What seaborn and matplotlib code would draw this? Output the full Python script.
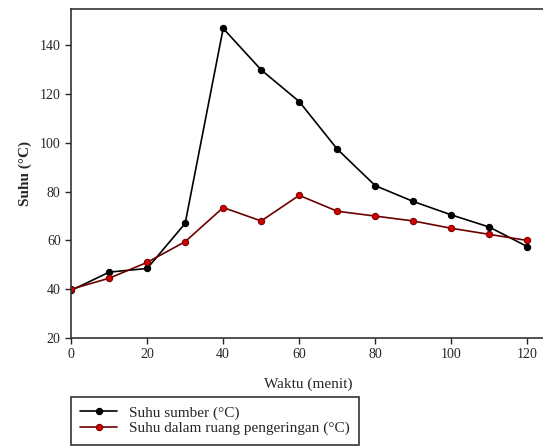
import matplotlib.pyplot as plt
import pandas as pd
import seaborn as sns

waktu = [0, 10, 20, 30, 40, 50, 60, 70, 80, 90, 100, 110, 120]
suhu_sumber = [39.5, 47, 48.5, 67, 147, 130, 117, 97.5, 82.5, 76, 70.5, 65.5, 57.5]
suhu_ruang = [40, 44.5, 51, 59.5, 73.5, 68, 78.5, 72, 70, 68, 65, 62.5, 60]
labels = ["Suhu sumber (°C)", "Suhu dalam ruang pengeringan (°C)"]


def main():
    sns.set_style("ticks")
    plt.rcParams["font.family"] = ["Liberation Serif", "DejaVu Serif"]

    df = pd.DataFrame({
        "waktu": waktu * 2,
        "suhu": suhu_sumber + suhu_ruang,
        "seri": [labels[0]] * len(waktu) + [labels[1]] * len(waktu),
    })

    fig = plt.figure(figsize=(5.43, 4.47), dpi=100)
    ax = fig.add_axes([0.131, 0.244, 0.875, 0.736])

    styles = {
        labels[0]: dict(color="black", mfc="black", mec="black"),
        labels[1]: dict(color="#6b0000", mfc="#d40000", mec="#7a0000"),
    }
    for name in labels:
        sub = df[df["seri"] == name]
        st = styles[name]
        sns.lineplot(data=sub, x="waktu", y="suhu", ax=ax, color=st["color"],
                     marker="o", markersize=6, markerfacecolor=st["mfc"],
                     markeredgecolor=st["mec"], markeredgewidth=0.8,
                     linewidth=1.2, label=name, legend=False)

    ax.set_xlim(0, 125)
    ax.set_ylim(20, 155)
    ax.set_xticks(range(0, 121, 20))
    ax.set_yticks(range(20, 141, 20))
    ax.tick_params(labelsize=10, direction="out", length=4, width=1)
    ax.spines["right"].set_visible(False)
    for s in ax.spines.values():
        s.set_linewidth(1.2)
        s.set_color("#333333")
    ax.set_xlabel("Waktu (menit)", fontsize=11, labelpad=12)
    ax.set_ylabel("Suhu (°C)", fontsize=11, fontweight="bold", labelpad=6)

    handles, lbls = ax.get_legend_handles_labels()
    for h in handles:
        h.set_markersize(4.5)
    leg = fig.legend(handles, lbls, loc="upper left", bbox_to_anchor=(0.131, 0.112),
                     borderaxespad=0, fontsize=11, frameon=True, fancybox=False,
                     edgecolor="black", borderpad=0.6, handlelength=2.4,
                     labelspacing=0.1)
    leg.get_frame().set_linewidth(1.2)

    plt.savefig("out.png", dpi=100)
    plt.close()


if __name__ == "__main__":
    main()
